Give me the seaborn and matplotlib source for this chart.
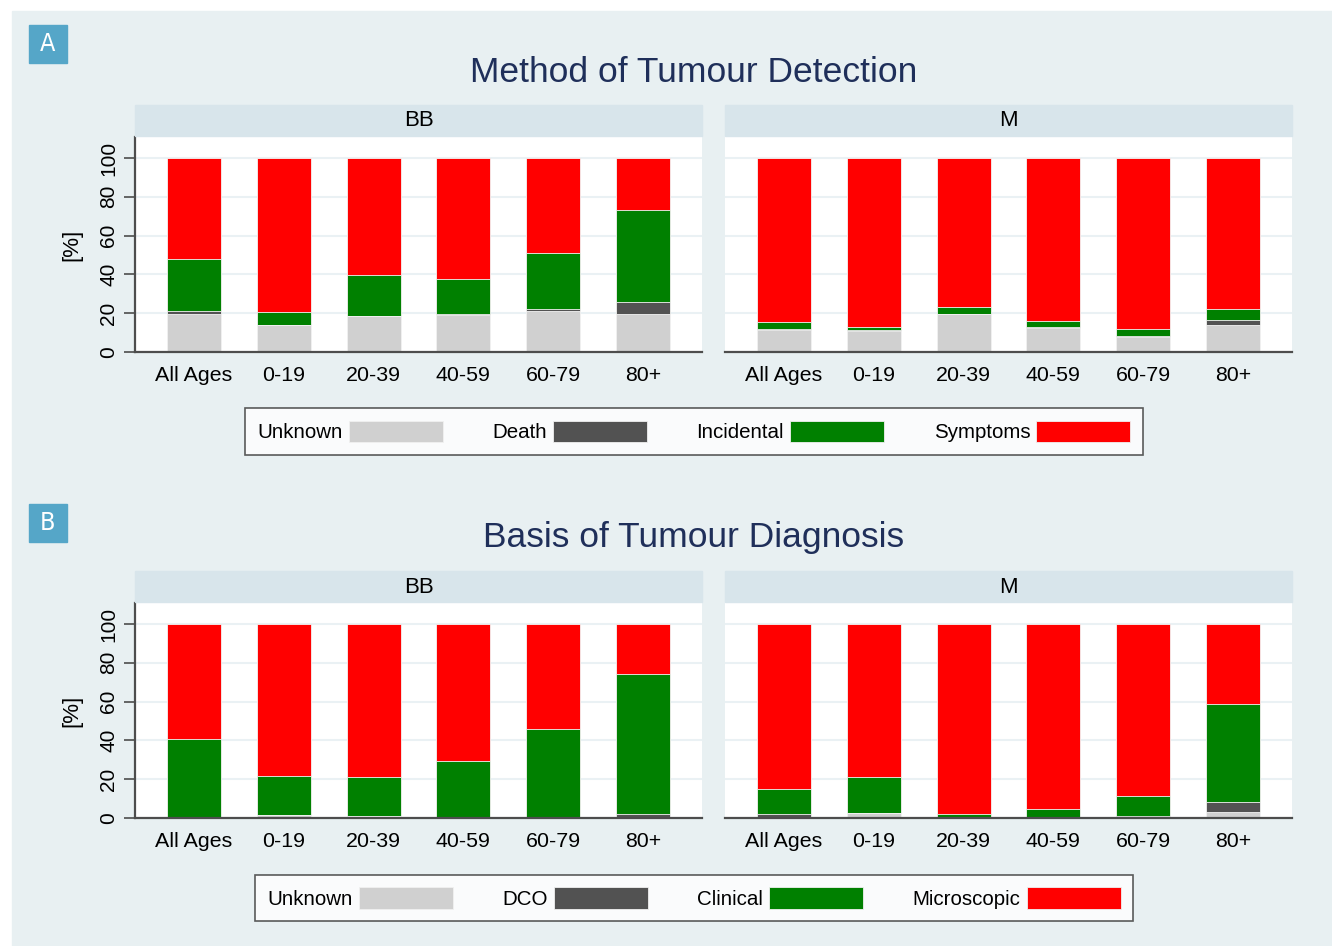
import numpy as np
import pandas as pd
import matplotlib
matplotlib.use("Agg")
import matplotlib.pyplot as plt
import seaborn as sns
from matplotlib.patches import Rectangle, Patch

ages = ["All Ages", "0-19", "20-39", "40-59", "60-79", "80+"]

# Panel A - method of detection (% per age group)
det_bb_unknown = [19.8, 14.1, 18.8, 18.9, 21.0, 19.8]
det_bb_death = [1.4, 0.0, 0.0, 0.7, 1.2, 6.0]
det_bb_incidental = [26.6, 6.6, 20.8, 18.1, 28.7, 47.2]
det_bb_symptoms = [52.2, 79.3, 60.4, 62.3, 49.1, 27.0]

det_m_unknown = [11.5, 11.0, 19.4, 12.6, 7.9, 13.8]
det_m_death = [0.5, 0.2, 0.0, 0.3, 0.5, 2.7]
det_m_incidental = [3.7, 1.7, 3.7, 3.1, 3.6, 5.7]
det_m_symptoms = [84.3, 87.1, 76.9, 84.0, 88.0, 77.8]

# Panel B - basis of diagnosis
dia_bb_unknown = [0.7, 1.7, 1.0, 0.3, 0.7, 0.0]
dia_bb_dco = [0.0, 0.0, 0.0, 0.2, 0.0, 1.9]
dia_bb_clinical = [40.2, 19.9, 20.2, 28.8, 45.3, 72.2]
dia_bb_micro = [59.1, 78.4, 78.8, 70.7, 54.0, 25.9]

dia_m_unknown = [0.5, 2.6, 0.7, 0.0, 0.0, 3.1]
dia_m_dco = [1.4, 0.0, 0.0, 0.2, 0.9, 5.0]
dia_m_clinical = [13.2, 18.4, 1.5, 4.3, 10.3, 50.8]
dia_m_micro = [84.9, 79.0, 97.8, 95.5, 88.8, 41.1]

colors = ["#d0d0d0", "#525252", "#008000", "#ff0000"]
det_labels = ["Unknown", "Death", "Incidental", "Symptoms"]
dia_labels = ["Unknown", "DCO", "Clinical", "Microscopic"]

sns.set_theme(style="white")
plt.rcParams["font.family"] = ["Liberation Sans", "DejaVu Sans"]
plt.rcParams["text.color"] = "black"

W, H = 1332, 946
fig = plt.figure(figsize=(W / 100, H / 100), dpi=100)
fig.patch.set_facecolor("white")
bg = "#e8f0f2"
fig.patches.append(Rectangle((12 / W, 0), 1 - 12 / W, 1 - 11 / H,
                             transform=fig.transFigure, color=bg, zorder=-10))


def px(x0, y0, w, h):
    # pixel box (top-left origin) -> figure fraction rect
    return [x0 / W, 1 - (y0 + h) / H, w / W, h / H]


def stacked(ax, layers, show_y):
    df = pd.DataFrame({"age": ages})
    tops = np.cumsum(np.array(layers), axis=0)
    # draw tallest cumulative first so lower segments sit on top
    for i in range(len(layers) - 1, -1, -1):
        df["v"] = tops[i]
        sns.barplot(data=df, x="age", y="v", ax=ax, color=colors[i],
                    width=0.6, saturation=1, edgecolor="#f4f4f4",
                    linewidth=0.6, zorder=2)
    ax.set_xlim(-0.655, 5.655)
    ax.set_ylim(0, 110.8)
    ax.set_yticks([0, 20, 40, 60, 80, 100])
    ax.set_facecolor("white")
    ax.grid(axis="y", color="#eaf1f4", linewidth=1.5, zorder=0)
    ax.set_axisbelow(True)
    ax.set_xlabel("")
    ax.set_ylabel("")
    for s in ["top", "right"]:
        ax.spines[s].set_visible(False)
    for s in ["left", "bottom"]:
        ax.spines[s].set_color("#4d4d4d")
        ax.spines[s].set_linewidth(1.6)
    ax.tick_params(axis="x", length=0, labelsize=15.4, pad=10, labelcolor="black")
    if show_y:
        ax.tick_params(axis="y", length=8, width=1.2, color="#4d4d4d",
                       labelsize=15, pad=4, left=True, labelcolor="black")
        for t in ax.get_yticklabels():
            t.set_rotation(90)
            t.set_va("center")
    else:
        ax.spines["left"].set_visible(False)
        ax.tick_params(axis="y", left=False, labelleft=False)


def panel(top, box_top, letter, title, bb_layers, m_layers, labels, leg_y):
    # letter box
    fig.patches.append(Rectangle((29 / W, 1 - (box_top + 38) / H), 38 / W, 38 / H,
                                 transform=fig.transFigure, color="#55a6c8"))
    fig.text(48 / W, 1 - (box_top + 19) / H, letter, color="white", fontsize=18,
             ha="center", va="center", family="DejaVu Sans",
             fontstretch="condensed")
    fig.text(694 / W, 1 - (top + 7) / H, title, color="#1f2f5a", fontsize=25.5,
             ha="center", va="center")
    for x0, name, layers in [(135, "BB", bb_layers), (725, "M", m_layers)]:
        w = 567
        fig.patches.append(Rectangle((x0 / W, 1 - (top + 71) / H), w / W, 31 / H,
                                     transform=fig.transFigure, color="#d8e5eb"))
        fig.text((x0 + w / 2) / W, 1 - (top + 56) / H, name, fontsize=16,
                 ha="center", va="center")
        ax = fig.add_axes(px(x0, top + 72, w, 215))
        stacked(ax, layers, x0 == 135)
        if x0 == 135:
            ax.set_ylabel("[%]", fontsize=16, labelpad=12, color="black")
    handles = [Patch(facecolor=c, edgecolor="#f0f0f0", linewidth=0.6) for c in colors]
    leg = fig.legend(handles, labels, loc="center", ncol=4,
                     bbox_to_anchor=(694 / W, 1 - leg_y / H),
                     markerfirst=False, fontsize=14.8, handlelength=4.57,
                     handleheight=1.22, handletextpad=0.3, columnspacing=2.4,
                     frameon=True, fancybox=False, borderpad=0.6)
    leg.get_frame().set_edgecolor("#333333")
    leg.get_frame().set_linewidth(1.2)
    leg.get_frame().set_facecolor("white")


panel(65, 25, "A", "Method of Tumour Detection",
      [det_bb_unknown, det_bb_death, det_bb_incidental, det_bb_symptoms],
      [det_m_unknown, det_m_death, det_m_incidental, det_m_symptoms],
      det_labels, 431.5)
panel(531, 504, "B", "Basis of Tumour Diagnosis",
      [dia_bb_unknown, dia_bb_dco, dia_bb_clinical, dia_bb_micro],
      [dia_m_unknown, dia_m_dco, dia_m_clinical, dia_m_micro],
      dia_labels, 898)

fig.savefig("out.png", dpi=100, facecolor=fig.get_facecolor())
